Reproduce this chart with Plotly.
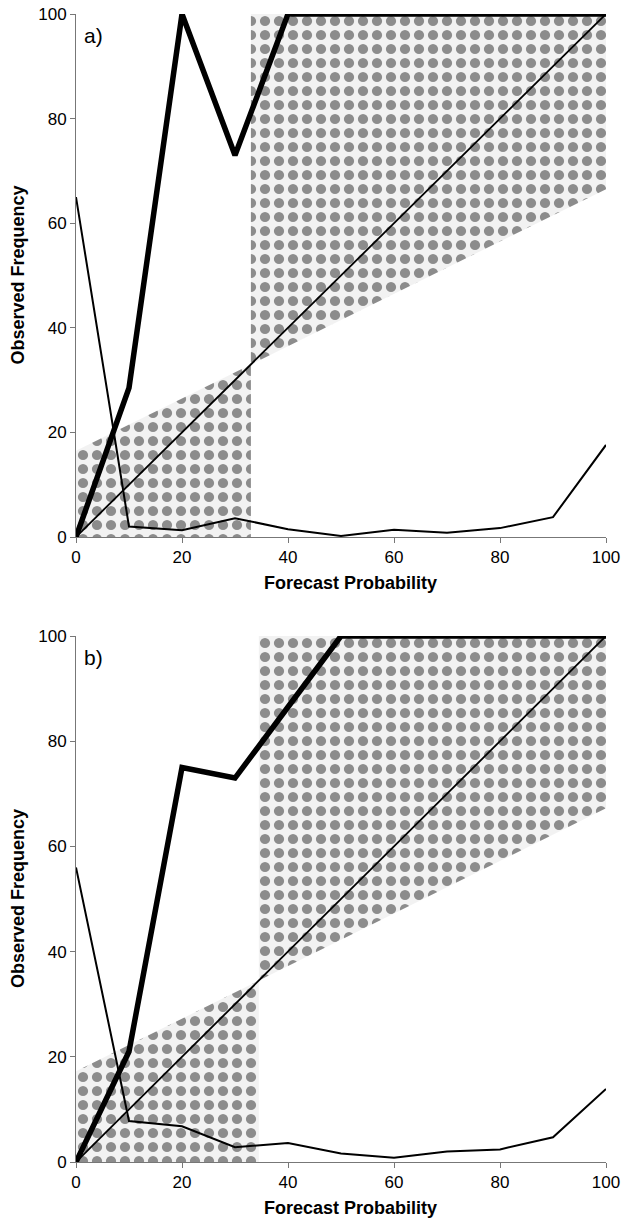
import plotly.graph_objects as go
from plotly.subplots import make_subplots

# ---- data ----
prob = [0, 10, 20, 30, 40, 50, 60, 70, 80, 90, 100]

# panel a
obs_a = [0, 28.5, 100, 73, 100, 100, 100, 100, 100, 100, 100]
freq_a = [65, 2, 1.3, 3.6, 1.5, 0.2, 1.4, 0.8, 1.7, 3.8, 17.6]
clim_a = 33

# panel b
obs_b = [0, 21, 75, 73, 86.5, 100, 100, 100, 100, 100, 100]
freq_b = [56, 7.8, 6.8, 2.8, 3.6, 1.6, 0.8, 2.0, 2.4, 4.7, 13.9]
clim_b = 34.5

panel_labels = ["a)", "b)"]
x_title = "Forecast Probability"
y_title = "Observed Frequency"
tick_vals = [0, 20, 40, 60, 80, 100]

FONT = "Liberation Sans, Arial, Helvetica"

fig = make_subplots(rows=2, cols=1, vertical_spacing=0.05)

def skill_region(c):
    ns0 = c / 2.0
    ns100 = (100 + c) / 2.0
    xs = [0, 0, c, c, 0, None, c, c, 100, 100, c]
    ys = [0, ns0, c, 0, 0, None, c, 100, 100, ns100, c]
    return xs, ys

W, H = 622, 1220
L, R, T, B = 76, 16, 14, 58
pw = W - L - R
ph = H - T - B
dom_a = [(1162 - 537) / ph, 1.0]
dom_b = [0.0, (1162 - 636) / ph]
doms = [dom_a, dom_b]
xtitle_y = [(1162 - 583) / ph, (1162 - 1208) / ph]

panels = [(obs_a, freq_a, clim_a), (obs_b, freq_b, clim_b)]
for i, (obs, freq, clim) in enumerate(panels):
    row = i + 1
    xs, ys = skill_region(clim)
    fig.add_trace(go.Scatter(
        x=xs, y=ys, mode="lines", fill="toself",
        line=dict(width=0, color="rgba(0,0,0,0)"),
        fillcolor="#cccccc",
        fillpattern=dict(shape=".", fgcolor="#8c8c8c", bgcolor="#f2f2f2",
                         size=14, solidity=0.42, fillmode="replace"),
        hoverinfo="skip", showlegend=False), row=row, col=1)
    fig.add_trace(go.Scatter(
        x=[0, 100], y=[0, 100], mode="lines",
        line=dict(color="black", width=1.8),
        showlegend=False, cliponaxis=False), row=row, col=1)
    fig.add_trace(go.Scatter(
        x=prob, y=freq, mode="lines",
        line=dict(color="black", width=2),
        showlegend=False, cliponaxis=False), row=row, col=1)
    fig.add_trace(go.Scatter(
        x=prob, y=obs, mode="lines",
        line=dict(color="black", width=5.5),
        showlegend=False, cliponaxis=False), row=row, col=1)
    sfx = "" if row == 1 else str(row)
    fig.add_annotation(x=1.2, y=98.5, xref="x" + sfx, yref="y" + sfx,
                       text=panel_labels[i], showarrow=False,
                       xanchor="left", yanchor="top",
                       font=dict(size=21, color="black", family=FONT))
    # axis titles
    fig.add_annotation(x=(350 - L) / pw, y=xtitle_y[i], xref="paper", yref="paper",
                       text="<b>" + x_title + "</b>", showarrow=False,
                       xanchor="center", yanchor="middle",
                       font=dict(size=18, color="black", family=FONT))
    fig.add_annotation(x=(18 - L) / pw, y=(doms[i][0] + doms[i][1]) / 2,
                       xref="paper", yref="paper", textangle=-90,
                       text="<b>" + y_title + "</b>", showarrow=False,
                       xanchor="center", yanchor="middle",
                       font=dict(size=18, color="black", family=FONT))

axis_common = dict(
    range=[0, 100], tickvals=tick_vals, showgrid=False, zeroline=False,
    showline=True, linecolor="#777", linewidth=1,
    ticks="outside", ticklen=5, tickcolor="#777",
    tickfont=dict(size=17, color="black", family=FONT),
)

fig.update_xaxes(**axis_common)
fig.update_yaxes(**axis_common)
fig.update_yaxes(domain=dom_a, row=1, col=1)
fig.update_yaxes(domain=dom_b, row=2, col=1)

fig.update_layout(
    width=W, height=H,
    margin=dict(l=L, r=R, t=T, b=B, autoexpand=False),
    plot_bgcolor="white", paper_bgcolor="white",
    showlegend=False,
)

fig.write_html("out.html", config={"displayModeBar": False},
               post_script="document.body.style.margin='0';document.body.style.overflow='hidden';")
